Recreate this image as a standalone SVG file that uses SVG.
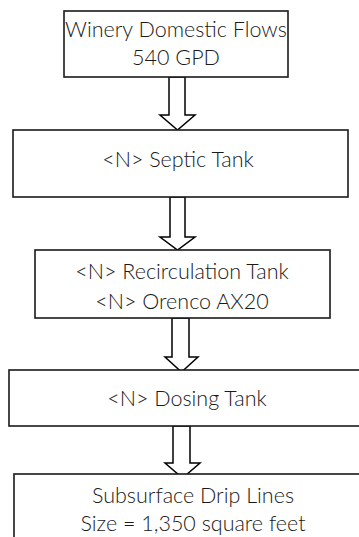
<svg xmlns="http://www.w3.org/2000/svg" width="359" height="537" viewBox="0 0 359 537">
<style>
.box{fill:#fff;stroke:#1a1a1a;stroke-width:1.6}
.arr{fill:#fff;stroke:#000;stroke-width:1.5;stroke-linejoin:miter}
.t{font-family:Lato,"Liberation Sans",sans-serif;font-size:21.5px;font-weight:300;fill:#1a1a1a;text-anchor:middle}
</style>
<rect width="359" height="537" fill="#fff"/>
<g id="connectors">
<polygon class="arr" points="169,77 185,77 185,115 195,115 177.5,130 160,115 169,115"/>
<polygon class="arr" points="170,197 185,197 185,237 195,237 177.5,250 160,237 170,237"/>
<polygon class="arr" points="172,318 189,318 189,357 198,357 181.5,372 165,357 172,357"/>
<polygon class="arr" points="173,426 190,426 190,463 200,463 182.5,478 165,463 173,463"/>
</g>
<g id="n1">
<rect class="box" x="64" y="11" width="224" height="66"/>
<text class="t" x="176" y="37">Winery Domestic Flows</text>
<text class="t" x="176" y="65">540 GPD</text>
</g>
<g id="n2">
<rect class="box" x="13" y="130" width="335" height="67"/>
<text class="t" x="178" y="167">&lt;N&gt; Septic Tank</text>
</g>
<g id="n3">
<rect class="box" x="35" y="250" width="295" height="68"/>
<text class="t" x="182" y="279">&lt;N&gt; Recirculation Tank</text>
<text class="t" x="182" y="309">&lt;N&gt; Orenco AX20</text>
</g>
<g id="n4">
<rect class="box" x="9" y="370" width="360" height="56"/>
<text class="t" x="187" y="406">&lt;N&gt; Dosing Tank</text>
</g>
<g id="n5">
<rect class="box" x="14" y="474" width="360" height="80"/>
<text class="t" x="193" y="503">Subsurface Drip Lines</text>
<text class="t" x="193" y="531">Size = 1,350 square feet</text>
</g>
</svg>
